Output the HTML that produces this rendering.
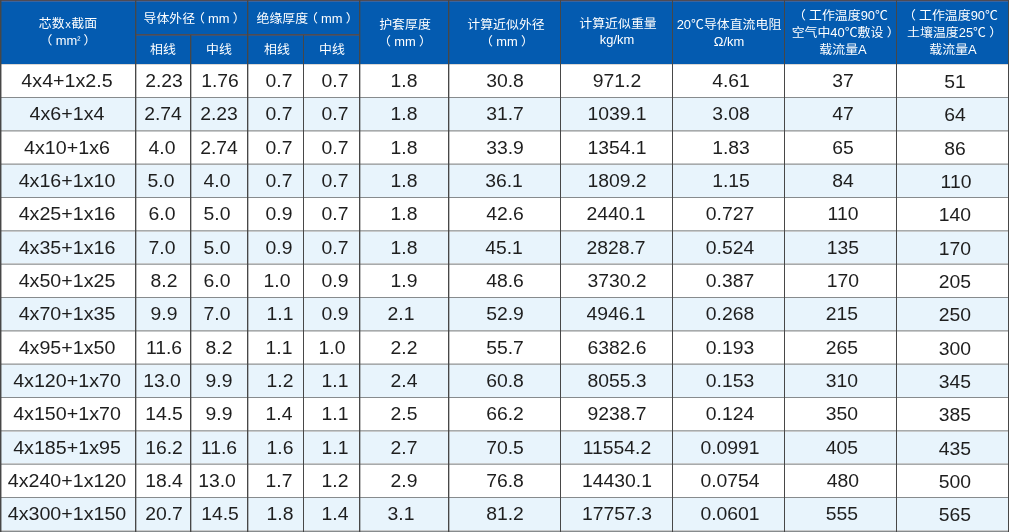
<!DOCTYPE html><html><head><meta charset="utf-8"><title>table</title><style>
html,body{margin:0;padding:0;background:#fff;width:1010px;height:532px;overflow:hidden}
#t{position:relative;width:1010px;height:532px;font-family:"Liberation Sans","Noto Sans CJK SC",sans-serif}
#t div{position:absolute}
.c{left:0;width:0;height:32px;line-height:32px;color:#1e1e1e;font-size:18px;white-space:nowrap}
.c>span{position:absolute;left:0;top:0;will-change:transform;transform:translateX(-50%) scaleX(1.075)}
.hc{color:#fff;font-size:12px;line-height:17px;white-space:nowrap;text-spacing-trim:space-all}
.hl{position:absolute;left:0;width:0;height:17px}
.hl>span{position:absolute;left:0;top:0;will-change:transform;transform:translateX(-50%) scaleX(1.075)}
.lp{position:relative;left:-3px}.rp{position:relative;left:3px}

</style></head><body><div id="t">
<div style="left:0;top:0;width:1009px;height:64px;background:#045bb0"></div>
<div style="left:0;top:97px;width:1009px;height:33px;background:#e8f4fc"></div>
<div style="left:0;top:164px;width:1009px;height:33px;background:#e8f4fc"></div>
<div style="left:0;top:230px;width:1009px;height:34px;background:#e8f4fc"></div>
<div style="left:0;top:297px;width:1009px;height:33px;background:#e8f4fc"></div>
<div style="left:0;top:364px;width:1009px;height:33px;background:#e8f4fc"></div>
<div style="left:0;top:430px;width:1009px;height:34px;background:#e8f4fc"></div>
<div style="left:0;top:497px;width:1009px;height:33px;background:#e8f4fc"></div>
<div class="c" style="left:67.2px;top:65px"><span style="transform:translateX(-50%) scaleX(1.092)">4x4+1x2.5</span></div>
<div class="c" style="left:163.5px;top:65px"><span>2.23</span></div>
<div class="c" style="left:219.9px;top:65px"><span>1.76</span></div>
<div class="c" style="left:279.3px;top:65px"><span>0.7</span></div>
<div class="c" style="left:334.5px;top:65px"><span>0.7</span></div>
<div class="c" style="left:404.0px;top:65px"><span>1.8</span></div>
<div class="c" style="left:504.5px;top:65px"><span>30.8</span></div>
<div class="c" style="left:616.5px;top:65px"><span>971.2</span></div>
<div class="c" style="left:730.5px;top:65px"><span>4.61</span></div>
<div class="c" style="left:843.0px;top:65px"><span>37</span></div>
<div class="c" style="left:954.9px;top:66px"><span>51</span></div>
<div class="c" style="left:66.5px;top:98px"><span style="transform:translateX(-50%) scaleX(1.092)">4x6+1x4</span></div>
<div class="c" style="left:163.0px;top:98px"><span>2.74</span></div>
<div class="c" style="left:219.0px;top:98px"><span>2.23</span></div>
<div class="c" style="left:279.3px;top:98px"><span>0.7</span></div>
<div class="c" style="left:334.5px;top:98px"><span>0.7</span></div>
<div class="c" style="left:404.0px;top:98px"><span>1.8</span></div>
<div class="c" style="left:504.5px;top:98px"><span>31.7</span></div>
<div class="c" style="left:616.5px;top:98px"><span>1039.1</span></div>
<div class="c" style="left:730.7px;top:98px"><span>3.08</span></div>
<div class="c" style="left:843.0px;top:98px"><span>47</span></div>
<div class="c" style="left:955.3px;top:99px"><span>64</span></div>
<div class="c" style="left:67.2px;top:132px"><span style="transform:translateX(-50%) scaleX(1.092)">4x10+1x6</span></div>
<div class="c" style="left:161.8px;top:132px"><span>4.0</span></div>
<div class="c" style="left:218.5px;top:132px"><span>2.74</span></div>
<div class="c" style="left:279.3px;top:132px"><span>0.7</span></div>
<div class="c" style="left:334.5px;top:132px"><span>0.7</span></div>
<div class="c" style="left:404.0px;top:132px"><span>1.8</span></div>
<div class="c" style="left:504.5px;top:132px"><span>33.9</span></div>
<div class="c" style="left:616.5px;top:132px"><span>1354.1</span></div>
<div class="c" style="left:731.3px;top:132px"><span>1.83</span></div>
<div class="c" style="left:843.0px;top:132px"><span>65</span></div>
<div class="c" style="left:955.3px;top:133px"><span>86</span></div>
<div class="c" style="left:67.2px;top:165px"><span style="transform:translateX(-50%) scaleX(1.092)">4x16+1x10</span></div>
<div class="c" style="left:161.3px;top:165px"><span>5.0</span></div>
<div class="c" style="left:217.4px;top:165px"><span>4.0</span></div>
<div class="c" style="left:279.3px;top:165px"><span>0.7</span></div>
<div class="c" style="left:334.5px;top:165px"><span>0.7</span></div>
<div class="c" style="left:404.0px;top:165px"><span>1.8</span></div>
<div class="c" style="left:504.0px;top:165px"><span>36.1</span></div>
<div class="c" style="left:616.5px;top:165px"><span>1809.2</span></div>
<div class="c" style="left:730.8px;top:165px"><span>1.15</span></div>
<div class="c" style="left:843.0px;top:165px"><span>84</span></div>
<div class="c" style="left:955.5px;top:166px"><span>110</span></div>
<div class="c" style="left:67.2px;top:198px"><span style="transform:translateX(-50%) scaleX(1.092)">4x25+1x16</span></div>
<div class="c" style="left:161.5px;top:198px"><span>6.0</span></div>
<div class="c" style="left:216.8px;top:198px"><span>5.0</span></div>
<div class="c" style="left:279.3px;top:198px"><span>0.9</span></div>
<div class="c" style="left:334.5px;top:198px"><span>0.7</span></div>
<div class="c" style="left:404.0px;top:198px"><span>1.8</span></div>
<div class="c" style="left:504.5px;top:198px"><span>42.6</span></div>
<div class="c" style="left:615.8px;top:198px"><span>2440.1</span></div>
<div class="c" style="left:730.3px;top:198px"><span>0.727</span></div>
<div class="c" style="left:842.7px;top:198px"><span>110</span></div>
<div class="c" style="left:955.3px;top:199px"><span>140</span></div>
<div class="c" style="left:67.2px;top:232px"><span style="transform:translateX(-50%) scaleX(1.092)">4x35+1x16</span></div>
<div class="c" style="left:161.7px;top:232px"><span>7.0</span></div>
<div class="c" style="left:216.8px;top:232px"><span>5.0</span></div>
<div class="c" style="left:279.3px;top:232px"><span>0.9</span></div>
<div class="c" style="left:334.5px;top:232px"><span>0.7</span></div>
<div class="c" style="left:404.0px;top:232px"><span>1.8</span></div>
<div class="c" style="left:504.0px;top:232px"><span>45.1</span></div>
<div class="c" style="left:616.2px;top:232px"><span>2828.7</span></div>
<div class="c" style="left:730.3px;top:232px"><span>0.524</span></div>
<div class="c" style="left:843.2px;top:232px"><span>135</span></div>
<div class="c" style="left:955.3px;top:233px"><span>170</span></div>
<div class="c" style="left:67.2px;top:265px"><span style="transform:translateX(-50%) scaleX(1.092)">4x50+1x25</span></div>
<div class="c" style="left:164.0px;top:265px"><span>8.2</span></div>
<div class="c" style="left:216.8px;top:265px"><span>6.0</span></div>
<div class="c" style="left:276.6px;top:265px"><span>1.0</span></div>
<div class="c" style="left:334.5px;top:265px"><span>0.9</span></div>
<div class="c" style="left:404.0px;top:265px"><span>1.9</span></div>
<div class="c" style="left:504.5px;top:265px"><span>48.6</span></div>
<div class="c" style="left:616.5px;top:265px"><span>3730.2</span></div>
<div class="c" style="left:730.3px;top:265px"><span>0.387</span></div>
<div class="c" style="left:843.2px;top:265px"><span>170</span></div>
<div class="c" style="left:954.7px;top:266px"><span>205</span></div>
<div class="c" style="left:67.2px;top:298px"><span style="transform:translateX(-50%) scaleX(1.092)">4x70+1x35</span></div>
<div class="c" style="left:164.0px;top:298px"><span>9.9</span></div>
<div class="c" style="left:217.1px;top:298px"><span>7.0</span></div>
<div class="c" style="left:279.5px;top:298px"><span>1.1</span></div>
<div class="c" style="left:334.5px;top:298px"><span>0.9</span></div>
<div class="c" style="left:400.5px;top:298px"><span>2.1</span></div>
<div class="c" style="left:504.5px;top:298px"><span>52.9</span></div>
<div class="c" style="left:615.8px;top:298px"><span>4946.1</span></div>
<div class="c" style="left:730.3px;top:298px"><span>0.268</span></div>
<div class="c" style="left:842.3px;top:298px"><span>215</span></div>
<div class="c" style="left:954.7px;top:299px"><span>250</span></div>
<div class="c" style="left:67.2px;top:332px"><span style="transform:translateX(-50%) scaleX(1.092)">4x95+1x50</span></div>
<div class="c" style="left:163.7px;top:332px"><span>11.6</span></div>
<div class="c" style="left:219.3px;top:332px"><span>8.2</span></div>
<div class="c" style="left:279.0px;top:332px"><span>1.1</span></div>
<div class="c" style="left:332.0px;top:332px"><span>1.0</span></div>
<div class="c" style="left:404.0px;top:332px"><span>2.2</span></div>
<div class="c" style="left:504.5px;top:332px"><span>55.7</span></div>
<div class="c" style="left:616.5px;top:332px"><span>6382.6</span></div>
<div class="c" style="left:730.3px;top:332px"><span>0.193</span></div>
<div class="c" style="left:842.3px;top:332px"><span>265</span></div>
<div class="c" style="left:954.7px;top:333px"><span>300</span></div>
<div class="c" style="left:67.2px;top:365px"><span style="transform:translateX(-50%) scaleX(1.092)">4x120+1x70</span></div>
<div class="c" style="left:161.8px;top:365px"><span>13.0</span></div>
<div class="c" style="left:219.3px;top:365px"><span>9.9</span></div>
<div class="c" style="left:280.2px;top:365px"><span>1.2</span></div>
<div class="c" style="left:335.0px;top:365px"><span>1.1</span></div>
<div class="c" style="left:404.0px;top:365px"><span>2.4</span></div>
<div class="c" style="left:504.5px;top:365px"><span>60.8</span></div>
<div class="c" style="left:616.5px;top:365px"><span>8055.3</span></div>
<div class="c" style="left:730.3px;top:365px"><span>0.153</span></div>
<div class="c" style="left:842.3px;top:365px"><span>310</span></div>
<div class="c" style="left:954.7px;top:366px"><span>345</span></div>
<div class="c" style="left:67.2px;top:398px"><span style="transform:translateX(-50%) scaleX(1.092)">4x150+1x70</span></div>
<div class="c" style="left:164.2px;top:398px"><span>14.5</span></div>
<div class="c" style="left:219.3px;top:398px"><span>9.9</span></div>
<div class="c" style="left:279.2px;top:398px"><span>1.4</span></div>
<div class="c" style="left:334.5px;top:398px"><span>1.1</span></div>
<div class="c" style="left:404.0px;top:398px"><span>2.5</span></div>
<div class="c" style="left:504.5px;top:398px"><span>66.2</span></div>
<div class="c" style="left:616.5px;top:398px"><span>9238.7</span></div>
<div class="c" style="left:730.3px;top:398px"><span>0.124</span></div>
<div class="c" style="left:842.3px;top:398px"><span>350</span></div>
<div class="c" style="left:954.7px;top:399px"><span>385</span></div>
<div class="c" style="left:67.2px;top:432px"><span style="transform:translateX(-50%) scaleX(1.092)">4x185+1x95</span></div>
<div class="c" style="left:164.2px;top:432px"><span>16.2</span></div>
<div class="c" style="left:219.4px;top:432px"><span>11.6</span></div>
<div class="c" style="left:280.2px;top:432px"><span>1.6</span></div>
<div class="c" style="left:335.0px;top:432px"><span>1.1</span></div>
<div class="c" style="left:404.0px;top:432px"><span>2.7</span></div>
<div class="c" style="left:504.5px;top:432px"><span>70.5</span></div>
<div class="c" style="left:616.5px;top:432px"><span>11554.2</span></div>
<div class="c" style="left:729.6px;top:432px"><span>0.0991</span></div>
<div class="c" style="left:842.3px;top:432px"><span>405</span></div>
<div class="c" style="left:954.7px;top:433px"><span>435</span></div>
<div class="c" style="left:67.0px;top:465px"><span style="transform:translateX(-50%) scaleX(1.092)">4x240+1x120</span></div>
<div class="c" style="left:163.7px;top:465px"><span>18.4</span></div>
<div class="c" style="left:217.0px;top:465px"><span>13.0</span></div>
<div class="c" style="left:279.1px;top:465px"><span>1.7</span></div>
<div class="c" style="left:334.5px;top:465px"><span>1.2</span></div>
<div class="c" style="left:404.0px;top:465px"><span>2.9</span></div>
<div class="c" style="left:504.5px;top:465px"><span>76.8</span></div>
<div class="c" style="left:616.5px;top:465px"><span>14430.1</span></div>
<div class="c" style="left:730.0px;top:465px"><span>0.0754</span></div>
<div class="c" style="left:842.9px;top:465px"><span>480</span></div>
<div class="c" style="left:955.1px;top:466px"><span>500</span></div>
<div class="c" style="left:67.0px;top:498px"><span style="transform:translateX(-50%) scaleX(1.092)">4x300+1x150</span></div>
<div class="c" style="left:163.7px;top:498px"><span>20.7</span></div>
<div class="c" style="left:219.7px;top:498px"><span>14.5</span></div>
<div class="c" style="left:280.2px;top:498px"><span>1.8</span></div>
<div class="c" style="left:334.5px;top:498px"><span>1.4</span></div>
<div class="c" style="left:400.8px;top:498px"><span>3.1</span></div>
<div class="c" style="left:504.5px;top:498px"><span>81.2</span></div>
<div class="c" style="left:617.0px;top:498px"><span>17757.3</span></div>
<div class="c" style="left:729.9px;top:498px"><span>0.0601</span></div>
<div class="c" style="left:842.4px;top:498px"><span>555</span></div>
<div class="c" style="left:955.1px;top:499px"><span>565</span></div>
<div class="hc hl" style="left:67.7px;top:15.5px"><span>芯数<span style="font-size:10.5px;margin:0 0.5px">x</span>截面</span></div>
<div class="hc hl" style="left:68.0px;top:32.5px"><span><span class="lp">（</span>mm<span style="font-size:9px;position:relative;top:-2px">²</span><span class="rp">）</span></span></div>
<div class="hc hl" style="left:193.1px;top:11.0px"><span>导体外径<span class="lp">（</span>mm<span class="rp">）</span></span></div>
<div class="hc hl" style="left:305.5px;top:11.0px"><span>绝缘厚度<span class="lp">（</span>mm<span class="rp">）</span></span></div>
<div class="hc hl" style="left:163.0px;top:42.0px"><span>相线</span></div>
<div class="hc hl" style="left:219.0px;top:42.0px"><span>中线</span></div>
<div class="hc hl" style="left:276.8px;top:42.0px"><span>相线</span></div>
<div class="hc hl" style="left:331.5px;top:42.0px"><span>中线</span></div>
<div class="hc hl" style="left:404.5px;top:16.5px"><span>护套厚度</span></div>
<div class="hc hl" style="left:405.0px;top:34.0px"><span><span class="lp">（</span>mm<span class="rp">）</span></span></div>
<div class="hc hl" style="left:506.0px;top:16.5px"><span>计算近似外径</span></div>
<div class="hc hl" style="left:507.0px;top:34.0px"><span><span class="lp">（</span>mm<span class="rp">）</span></span></div>
<div class="hc hl" style="left:618.0px;top:15.5px"><span>计算近似重量</span></div>
<div class="hc hl" style="left:617.3px;top:31.5px"><span>kg/km</span></div>
<div class="hc hl" style="left:728.5px;top:16.5px"><span>20℃导体直流电阻</span></div>
<div class="hc hl" style="left:728.5px;top:33.5px"><span>Ω/km</span></div>
<div class="hc hl" style="left:842.0px;top:7.5px"><span><span class="lp">（</span>工作温度90℃</span></div>
<div class="hc hl" style="left:843.5px;top:24.8px"><span>空气中40℃敷设<span class="rp">）</span></span></div>
<div class="hc hl" style="left:843.0px;top:41.8px"><span>载流量A</span></div>
<div class="hc hl" style="left:951.7px;top:7.8px"><span><span class="lp">（</span>工作温度90℃</span></div>
<div class="hc hl" style="left:952.5px;top:24.8px"><span>土壤温度25℃<span class="rp">）</span></span></div>
<div class="hc hl" style="left:952.5px;top:41.8px"><span>载流量A</span></div>
<div style="left:0px;top:97px;width:1009px;height:1px;background:#878b8d"></div>
<div style="left:0px;top:130px;width:1009px;height:1px;background:#a7aaab"></div>
<div style="left:0px;top:131px;width:1009px;height:1px;background:#c7c9ca"></div>
<div style="left:0px;top:163px;width:1009px;height:1px;background:#c7c9ca"></div>
<div style="left:0px;top:164px;width:1009px;height:1px;background:#a7aaab"></div>
<div style="left:0px;top:197px;width:1009px;height:1px;background:#878b8d"></div>
<div style="left:0px;top:230px;width:1009px;height:1px;background:#a7aaab"></div>
<div style="left:0px;top:231px;width:1009px;height:1px;background:#c7c9ca"></div>
<div style="left:0px;top:263px;width:1009px;height:1px;background:#c7c9ca"></div>
<div style="left:0px;top:264px;width:1009px;height:1px;background:#a7aaab"></div>
<div style="left:0px;top:297px;width:1009px;height:1px;background:#878b8d"></div>
<div style="left:0px;top:330px;width:1009px;height:1px;background:#a7aaab"></div>
<div style="left:0px;top:331px;width:1009px;height:1px;background:#c7c9ca"></div>
<div style="left:0px;top:363px;width:1009px;height:1px;background:#c7c9ca"></div>
<div style="left:0px;top:364px;width:1009px;height:1px;background:#a7aaab"></div>
<div style="left:0px;top:397px;width:1009px;height:1px;background:#878b8d"></div>
<div style="left:0px;top:430px;width:1009px;height:1px;background:#a7aaab"></div>
<div style="left:0px;top:431px;width:1009px;height:1px;background:#c7c9ca"></div>
<div style="left:0px;top:463px;width:1009px;height:1px;background:#c7c9ca"></div>
<div style="left:0px;top:464px;width:1009px;height:1px;background:#a7aaab"></div>
<div style="left:0px;top:497px;width:1009px;height:1px;background:#878b8d"></div>
<div style="left:0px;top:530px;width:1009px;height:1px;background:#c9cbcc"></div>
<div style="left:0px;top:531px;width:1009px;height:1px;background:#878b8d"></div>
<div style="left:0;top:0;width:1009px;height:1px;background:#4f4b55"></div>
<div style="left:0;top:1px;width:1009px;height:1px;background:#3a64a0"></div>
<div style="left:1px;top:64px;width:1008px;height:1px;background:#dcd8d4"></div>
<div style="left:135px;top:34px;width:224px;height:1px;background:#4f4c52"></div>
<div style="left:135px;top:35px;width:224px;height:1px;background:#3c5478"></div>
<div style="left:0px;top:0px;width:1px;height:532px;background:#474747"></div>
<div style="left:1px;top:0px;width:1px;height:532px;background:#474747;opacity:0.45"></div>
<div style="left:135px;top:0px;width:1px;height:532px;background:#474747"></div>
<div style="left:136px;top:0px;width:1px;height:532px;background:#474747;opacity:0.35"></div>
<div style="left:190px;top:35px;width:1px;height:497px;background:#474747"></div>
<div style="left:191px;top:35px;width:1px;height:497px;background:#474747;opacity:0.35"></div>
<div style="left:247px;top:0px;width:1px;height:532px;background:#474747"></div>
<div style="left:248px;top:0px;width:1px;height:532px;background:#474747;opacity:0.35"></div>
<div style="left:303px;top:35px;width:1px;height:497px;background:#474747"></div>
<div style="left:359px;top:0px;width:1px;height:532px;background:#474747"></div>
<div style="left:360px;top:0px;width:1px;height:532px;background:#474747;opacity:0.35"></div>
<div style="left:448px;top:0px;width:1px;height:532px;background:#474747"></div>
<div style="left:449px;top:0px;width:1px;height:532px;background:#474747;opacity:0.35"></div>
<div style="left:560px;top:0px;width:1px;height:532px;background:#474747"></div>
<div style="left:672px;top:0px;width:1px;height:532px;background:#474747"></div>
<div style="left:784px;top:0px;width:1px;height:532px;background:#474747"></div>
<div style="left:896px;top:0px;width:1px;height:532px;background:#474747"></div>
<div style="left:1008px;top:0px;width:1px;height:532px;background:#474747"></div>
</div></body></html>
